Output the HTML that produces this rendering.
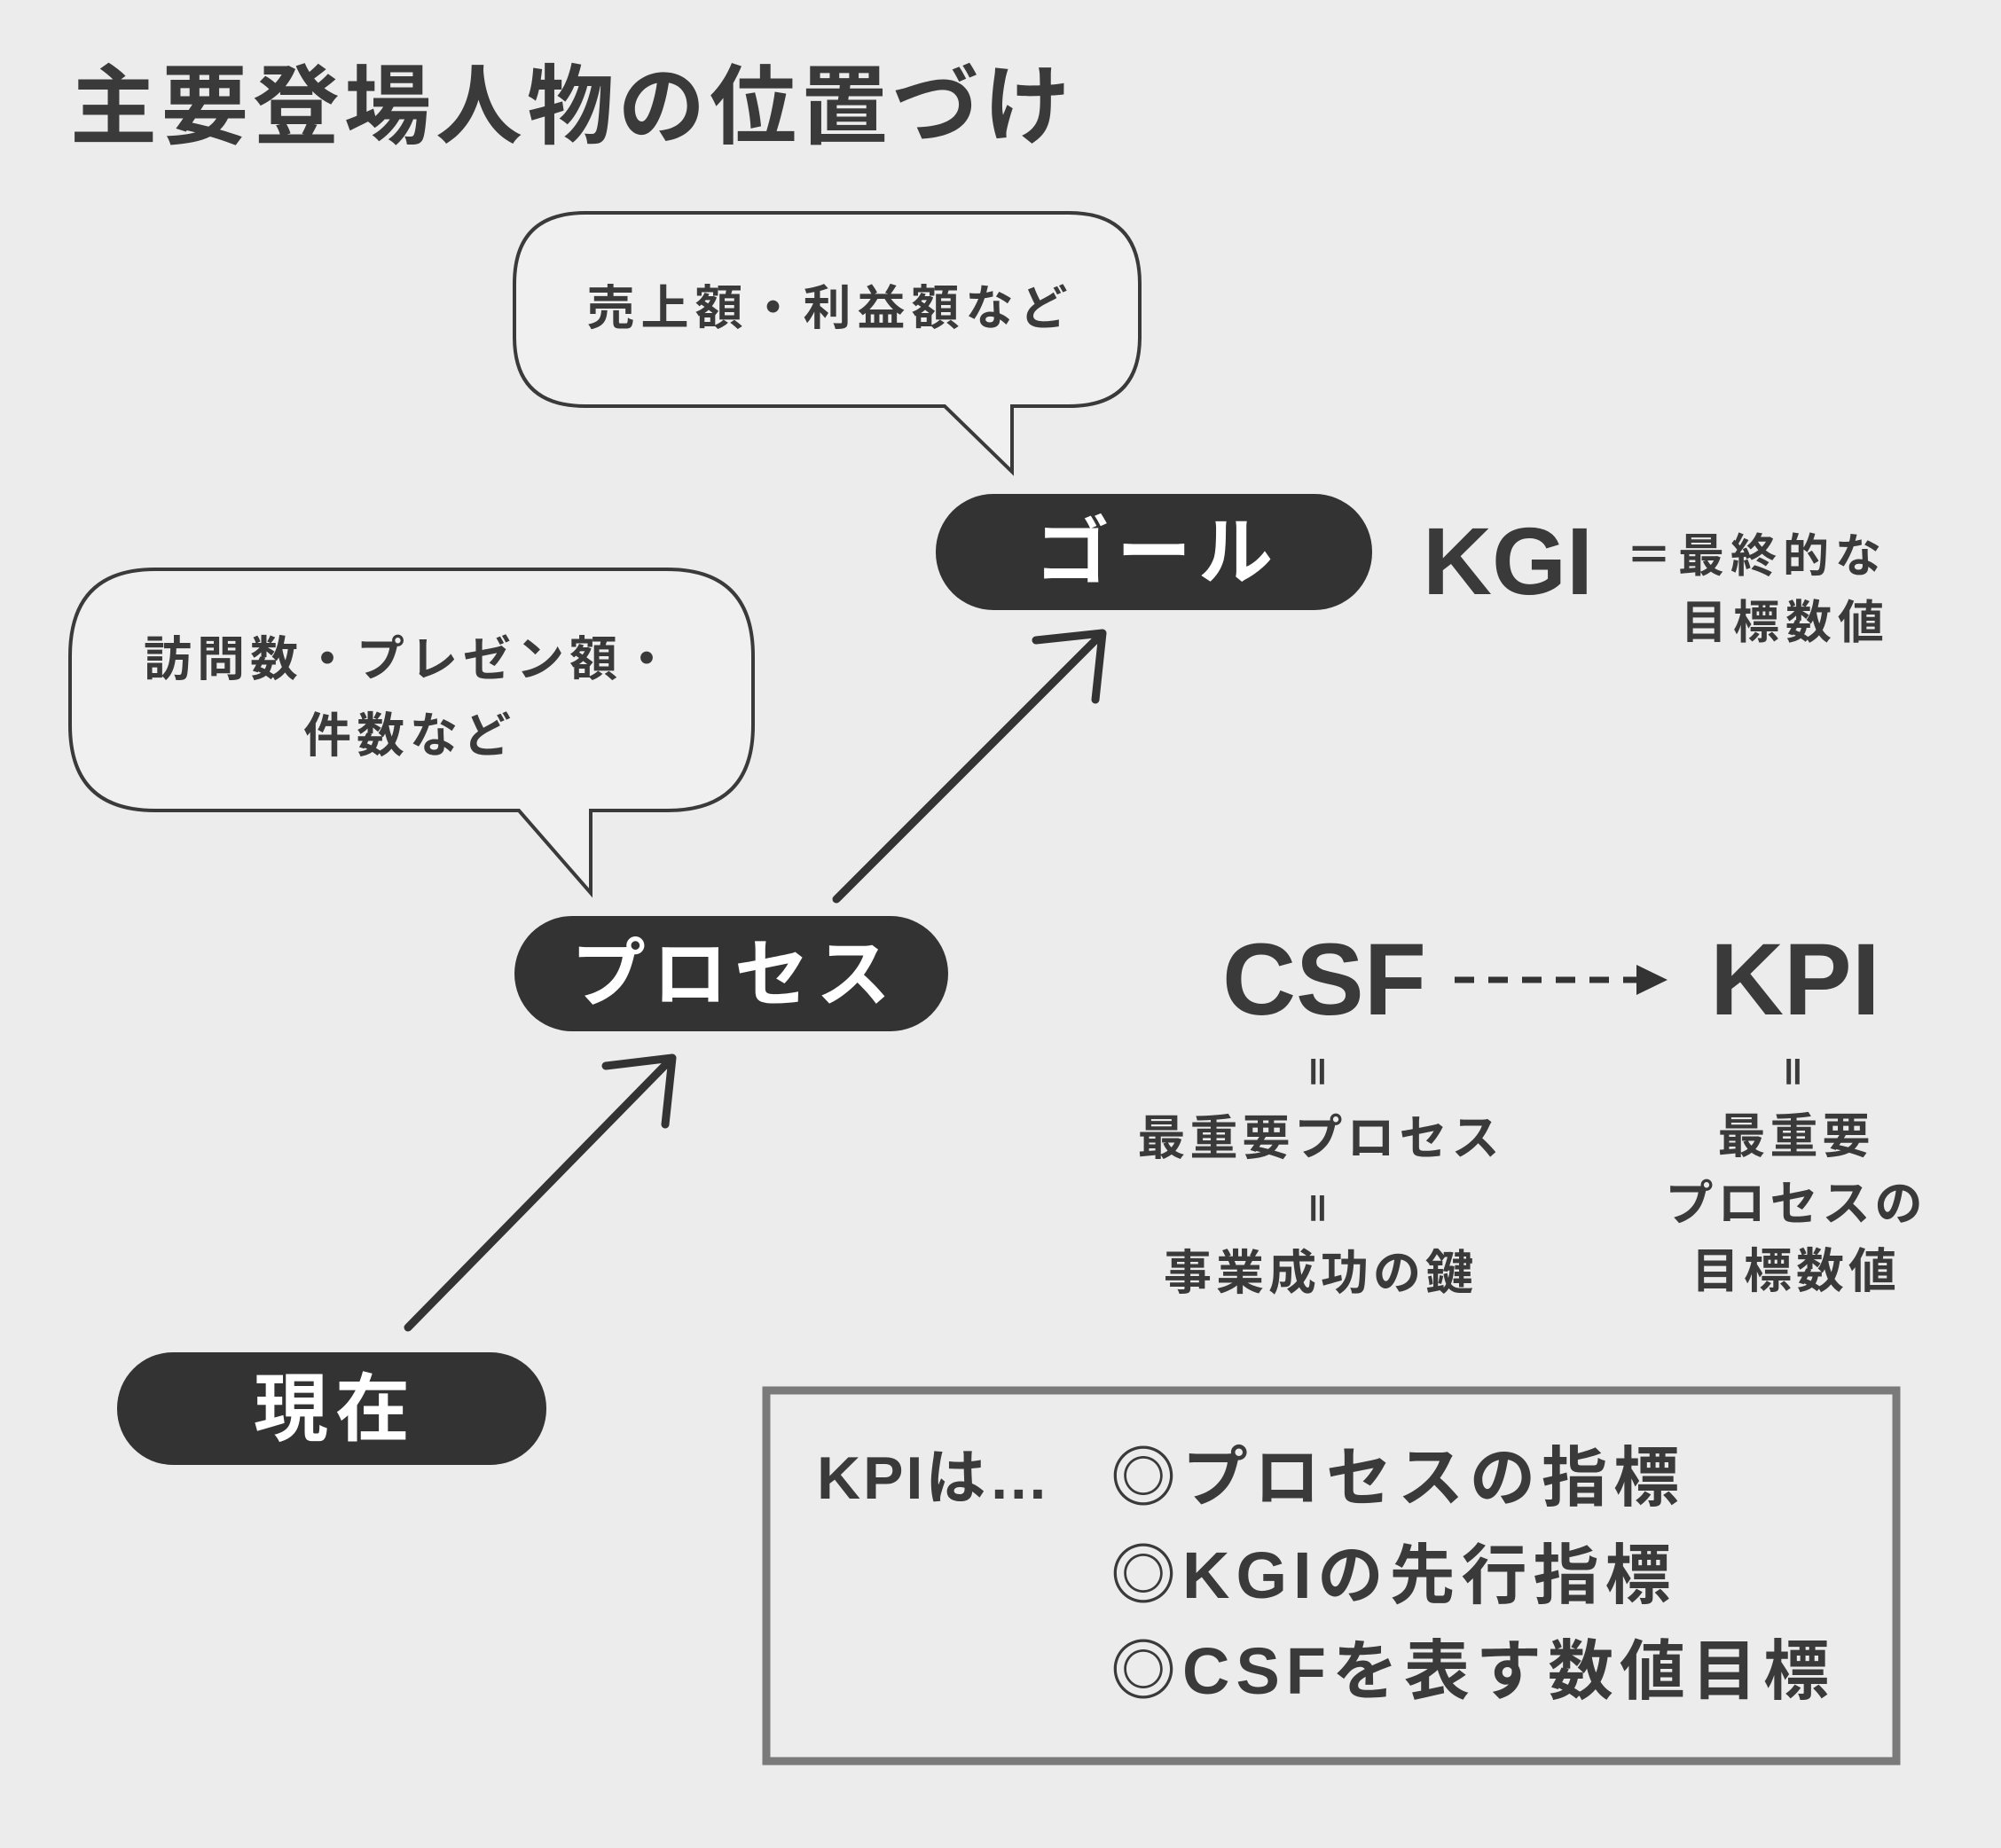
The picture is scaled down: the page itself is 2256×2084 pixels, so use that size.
<!DOCTYPE html>
<html><head><meta charset="utf-8"><style>
html,body{margin:0;padding:0;background:#ececec;}
svg{display:block}
text{font-family:"Liberation Sans","Noto Sans CJK JP",sans-serif;font-weight:bold;fill:#3a3a3a}
</style></head><body>
<svg width="2256" height="2084" viewBox="0 0 2256 2084" xmlns="http://www.w3.org/2000/svg">
<rect width="2256" height="2084" fill="#ececec"/>
<text x="79" y="154" font-size="98" fill="#444" letter-spacing="5">主要登場人物の位置づけ</text>

<!-- bubble 1 -->
<path d="M660,240 H1205 Q1285,240 1285,320 V380 Q1285,458 1205,458 H1141 V532 L1065,458 H660 Q580,458 580,380 V320 Q580,240 660,240 Z" fill="#f0f0f0" stroke="#3a3a3a" stroke-width="4"/>
<text x="936" y="366" font-size="54" text-anchor="middle" letter-spacing="7">売上額・利益額など</text>

<!-- bubble 2 -->
<path d="M175,642 H752 Q849,642 849,740 V818 Q849,914 752,914 H666 V1007 L585,914 H175 Q79,914 79,818 V740 Q79,642 175,642 Z" fill="#f0f0f0" stroke="#3a3a3a" stroke-width="4"/>
<text x="462" y="762" font-size="54" text-anchor="middle" letter-spacing="6">訪問数・プレゼン額・</text>
<text x="462" y="848" font-size="54" text-anchor="middle" letter-spacing="6">件数など</text>

<!-- pills -->
<rect x="1055" y="557" width="492" height="131" rx="65" fill="#333"/>
<text x="1305" y="652" font-size="84" text-anchor="middle" letter-spacing="8" style="fill:#fff">ゴール</text>
<rect x="580" y="1033" width="489" height="130" rx="65" fill="#333"/>
<text x="828" y="1128" font-size="84" text-anchor="middle" letter-spacing="8" style="fill:#fff">プロセス</text>
<rect x="132" y="1525" width="484" height="127" rx="63" fill="#333"/>
<text x="378" y="1618" font-size="84" text-anchor="middle" letter-spacing="8" style="fill:#fff">現在</text>

<!-- arrows -->
<g stroke="#333" stroke-width="9" fill="none" stroke-linecap="round" stroke-linejoin="round">
<line x1="943" y1="1014" x2="1240" y2="717"/>
<polyline points="1168,722 1243,714 1235,789"/>
<line x1="460" y1="1497" x2="755" y2="1196"/>
<polyline points="683,1202 758,1193 750,1268"/>
<line x1="1640" y1="1105" x2="1850" y2="1105" stroke-dasharray="22,16" stroke-linecap="butt" stroke-width="7"/>
</g>
<polygon points="1845,1088 1880,1105 1845,1122" fill="#333"/>

<text x="1604" y="670" font-size="108" fill="#333">KGI</text>
<text x="1833" y="645" font-size="52" letter-spacing="7">＝最終的な</text>
<text x="1895" y="720" font-size="52" letter-spacing="7">目標数値</text>

<text x="1378" y="1144" font-size="115" fill="#333">CSF</text>
<text x="1928" y="1144" font-size="115" fill="#333">KPI</text>

<g font-size="54" text-anchor="middle" letter-spacing="5">
<text x="1486" y="1222" font-size="44">॥</text>
<text x="1489" y="1302">最重要プロセス</text>
<text x="1486" y="1376" font-size="44">॥</text>
<text x="1489" y="1454">事業成功の鍵</text>
<text x="2022" y="1222" font-size="44">॥</text>
<text x="2025" y="1300">最重要</text>
<text x="2025" y="1376">プロセスの</text>
<text x="2025" y="1452">目標数値</text>
</g>

<rect x="864" y="1568" width="1274" height="418" fill="none" stroke="#7a7a7a" stroke-width="9"/>
<text x="921" y="1690" font-size="68" letter-spacing="3">KPIは…</text>
<text x="1252" y="1692" font-size="74" letter-spacing="7">◎プロセスの指標</text>
<text x="1252" y="1802" font-size="74" letter-spacing="7">◎KGIの先行指標</text>
<text x="1252" y="1910" font-size="74" letter-spacing="7">◎CSFを表す数値目標</text>
</svg>
</body></html>
